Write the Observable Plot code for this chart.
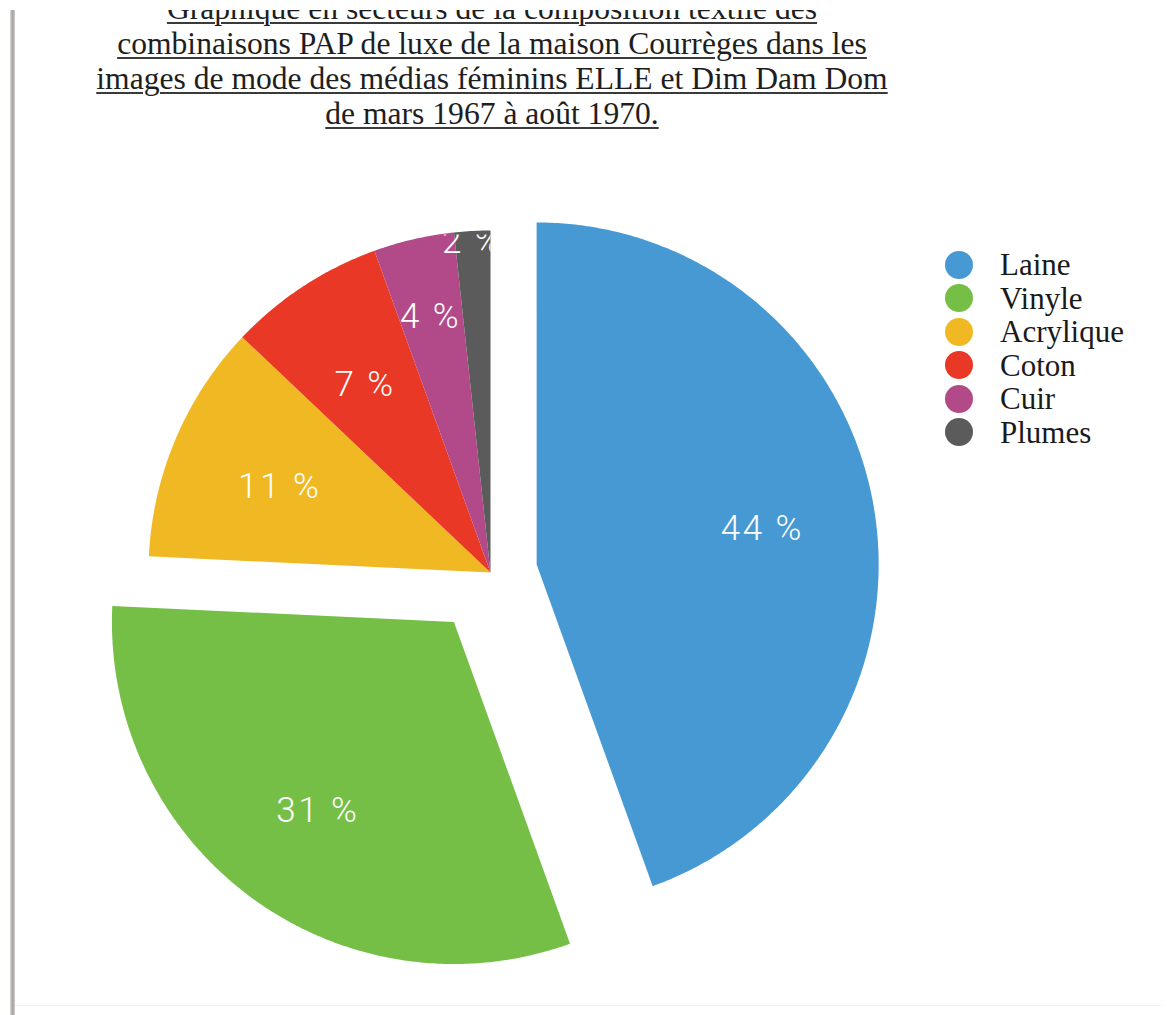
<!DOCTYPE html>
<html>
<head>
<meta charset="utf-8">
<script src="https://cdn.jsdelivr.net/npm/d3@7"></script>
<script src="https://cdn.jsdelivr.net/npm/@observablehq/plot@0.6"></script>
<style>
html, body { margin: 0; padding: 0; background: #fff; width: 1167px; height: 1015px; overflow: hidden; }
#page { position: relative; width: 1167px; height: 1015px; overflow: hidden; }
#clipTop { position: absolute; left: 0; top: 10px; width: 1167px; height: 1005px; overflow: hidden; }
#bar { position: absolute; left: 10px; top: 0; width: 5px; bottom: 0; background: linear-gradient(to right, #dedada, #a8a3a3, #cfcbcb); }
#foot { position: absolute; left: 15px; right: 6px; top: 995px; height: 1px; background: #f0eeee; }
#title { position: absolute; left: 0; width: 984px; top: -19px; text-align: center;
  font-family: "Liberation Serif", "Times New Roman", serif; font-size: 31.6px; line-height: 35px; color: #1e1e1e; }
#title span { text-decoration: underline; text-decoration-color: #3a3a3a; text-underline-offset: 3px; text-decoration-thickness: 1.5px; }
#chart { position: absolute; left: 0; top: 130px; }
#legend { position: absolute; left: 945px; top: 238px; font-family: "Liberation Serif", "Times New Roman", serif;
  font-size: 31px; color: #1a1a1a; }
.row { display: flex; align-items: center; height: 33.5px; line-height: 33.5px; }
.dot { width: 28px; height: 28px; border-radius: 50%; margin-right: 27px; flex: none; }
</style>
</head>
<body>
<div id="page">
  <div id="clipTop">
    <div id="bar"></div>
    <div id="foot"></div>
    <div id="title"></div>
    <div id="chart"></div>
    <div id="legend"></div>
  </div>
</div>
<script>
// ---- data ----
const titleLines = [
  "Graphique en secteurs de la composition textile des",
  "combinaisons PAP de luxe de la maison Courrèges dans les",
  "images de mode des médias féminins ELLE et Dim Dam Dom",
  "de mars 1967 à août 1970."
];
const materials = ["Laine", "Vinyle", "Acrylique", "Coton", "Cuir", "Plumes"];
const shares = [44.4, 31.2, 11.3, 7.4, 3.8, 1.7];          // percent
const colors = ["#4799d3", "#76bf47", "#f0b923", "#e93825", "#b24a89", "#5b5b5b"];
const exploded = ["Laine", "Vinyle"];

// ---- title & legend ----
const titleEl = document.getElementById("title");
titleLines.forEach(t => {
  const d = document.createElement("div");
  const s = document.createElement("span");
  s.textContent = t;
  d.appendChild(s);
  titleEl.appendChild(d);
});
const legendEl = document.getElementById("legend");
materials.forEach((m, i) => {
  const r = document.createElement("div");
  r.className = "row";
  const dot = document.createElement("div");
  dot.className = "dot";
  dot.style.background = colors[i];
  const lab = document.createElement("span");
  lab.textContent = m;
  r.appendChild(dot); r.appendChild(lab);
  legendEl.appendChild(r);
});

// ---- geometry (unit circle, angles clockwise from north) ----
const W = 1167, H = 875, R = 342, CX = 490, CY = 432;
const total = d3.sum(shares);
const explodeDist = {Laine: 0.137, Vinyle: 0.18};
let acc = 0;
const slices = materials.map((name, i) => {
  const a0 = acc / total * 360;
  acc += shares[i];
  const a1 = acc / total * 360;
  const mid = (a0 + a1) / 2 * Math.PI / 180;
  const off = exploded.includes(name) ? explodeDist[name] : 0;
  return {name, share: shares[i], a0, a1, ox: off * Math.sin(mid), oy: off * Math.cos(mid), mid};
});

const pts = [];
slices.forEach(s => {
  pts.push({name: s.name, x: s.ox, y: s.oy});
  const n = Math.max(2, Math.ceil((s.a1 - s.a0) / 0.5));
  for (let k = 0; k <= n; k++) {
    const t = (s.a0 + (s.a1 - s.a0) * k / n) * Math.PI / 180;
    pts.push({name: s.name, x: s.ox + Math.sin(t), y: s.oy + Math.cos(t)});
  }
});

const labelRadius = p => p < 3 ? 0.98 : p < 5 ? 0.78 : 0.67;
const labels = slices.map(s => ({
  name: s.name,
  text: Math.round(s.share) + " %",
  x: s.ox + labelRadius(s.share) * Math.sin(s.mid),
  y: s.oy + labelRadius(s.share) * Math.cos(s.mid)
}));

const chart = Plot.plot({
  width: W, height: H,
  margin: 0,
  x: {domain: [-CX / R, (W - CX) / R], range: [0, W], axis: null},
  y: {domain: [-(H - CY) / R, CY / R], range: [H, 0], axis: null},
  color: {domain: materials, range: colors},
  marks: [
    Plot.line(pts, {x: "x", y: "y", z: "name", fill: "name", stroke: "none", curve: "linear"}),
    Plot.text(labels, {x: "x", y: "y", dy: 4, text: "text", fill: "white", fontSize: 35, fontWeight: 300,
      fontFamily: "Roboto, 'Helvetica Neue', Arial, sans-serif"})
  ]
});
document.getElementById("chart").appendChild(chart);

// clip each label to the quadrants its slice occupies (like the source renderer)
const sx = chart.scale("x"), sy = chart.scale("y");
const ns = "http://www.w3.org/2000/svg";
const defs = document.createElementNS(ns, "defs");
chart.insertBefore(defs, chart.firstChild);
const texts = Array.from(chart.querySelectorAll('g[aria-label="text"] text'));
slices.forEach((s, i) => {
  const q0 = Math.floor(s.a0 / 90 + 1e-9), q1 = Math.ceil(s.a1 / 90 - 1e-9);
  const xs = [s.ox], ys = [s.oy];
  for (let q = q0; q <= q1; q++) {
    const t = q * 90 * Math.PI / 180;
    xs.push(s.ox + Math.sin(t)); ys.push(s.oy + Math.cos(t));
  }
  const x0 = sx.apply(d3.min(xs)), x1 = sx.apply(d3.max(xs));
  const y0 = sy.apply(d3.max(ys)), y1 = sy.apply(d3.min(ys));
  const cp = document.createElementNS(ns, "clipPath");
  cp.setAttribute("id", "lc" + i);
  cp.setAttribute("clipPathUnits", "userSpaceOnUse");
  const rect = document.createElementNS(ns, "rect");
  rect.setAttribute("x", x0); rect.setAttribute("y", y0);
  rect.setAttribute("width", x1 - x0); rect.setAttribute("height", y1 - y0);
  cp.appendChild(rect); defs.appendChild(cp);
  const t = texts[i];
  if (t) {
    t.style.letterSpacing = "2.5px";
    const g = document.createElementNS(ns, "g");
    g.setAttribute("clip-path", "url(#lc" + i + ")");
    t.parentNode.insertBefore(g, t);
    g.appendChild(t);
  }
});
</script>
</body>
</html>
